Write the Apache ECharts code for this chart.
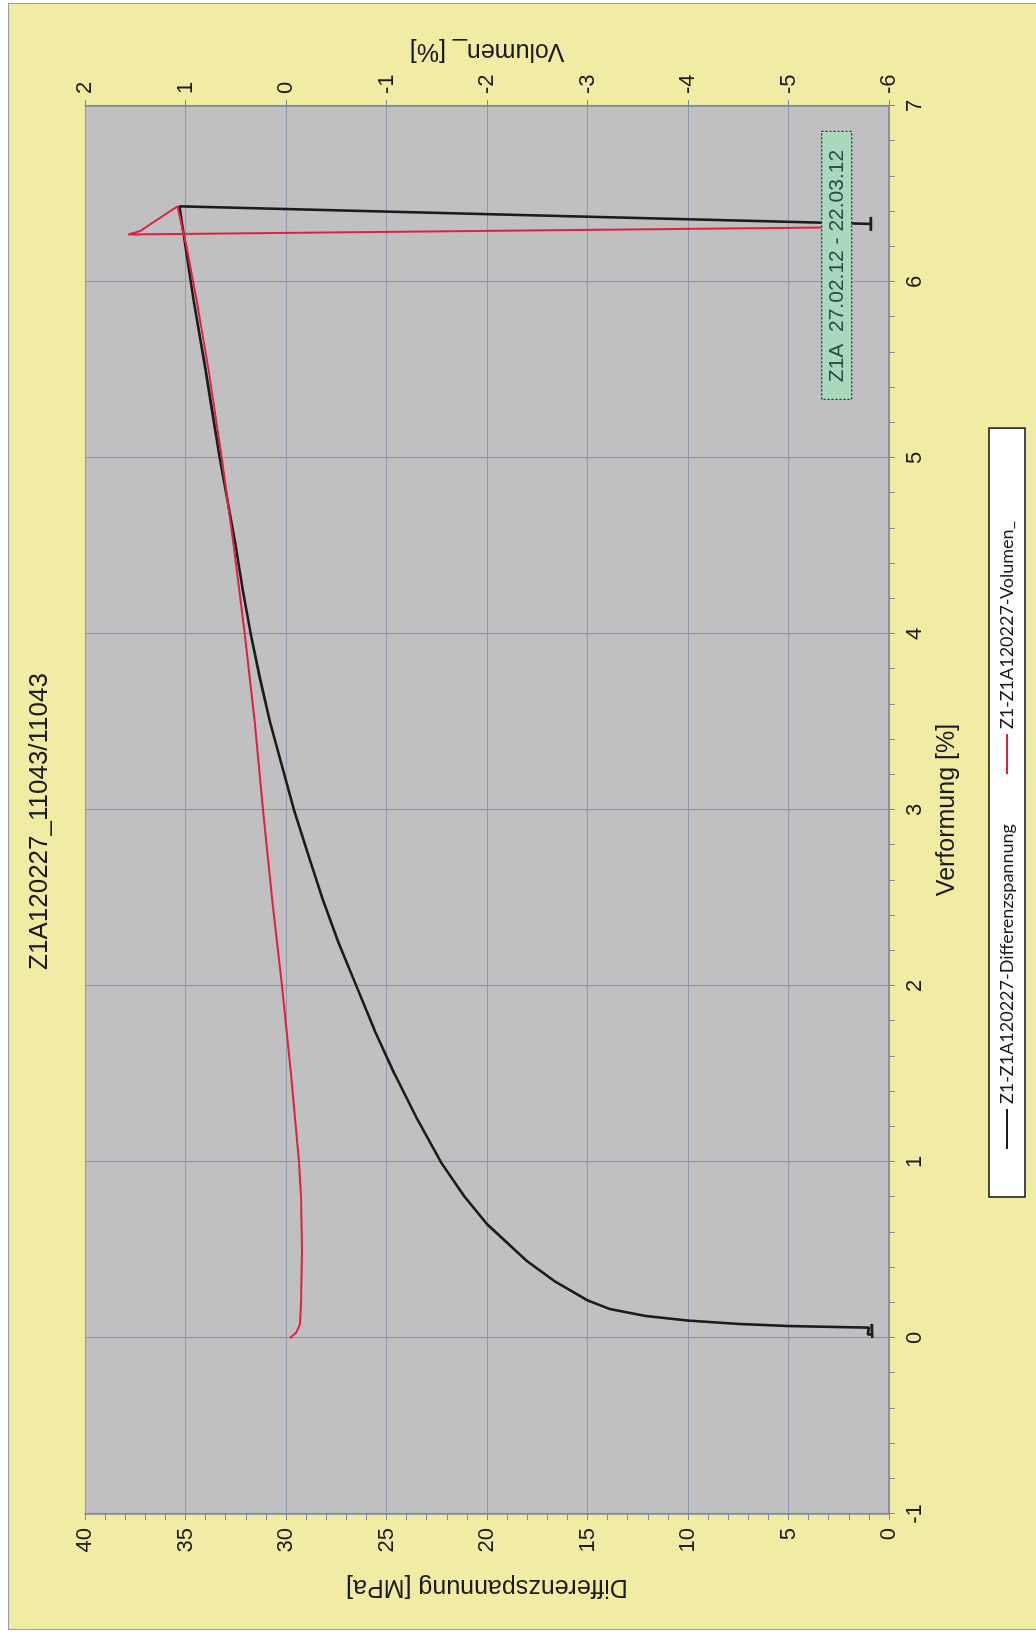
<!DOCTYPE html>
<html>
<head>
<meta charset="utf-8">
<script src="https://cdn.jsdelivr.net/npm/echarts@6/dist/echarts.min.js"></script>
<style>
  html, body { margin: 0; padding: 0; background: #fff; overflow: hidden; }
  /* the scanned page is turned a quarter to the left, so the chart is drawn upright and rotated */
  #page { position: absolute; left: 0; top: 0; width: 1643px; height: 1036px;
          transform-origin: 0 0; transform: translate(0, 1643px) rotate(-90deg); }
  #frame { position: absolute; left: 13px; top: 8px; width: 1625px; height: 1030px;
           background: #F1ECA4; border: 1px solid #9a9a9a; }
  #chart { position: absolute; left: 0; top: 0; width: 1643px; height: 1036px; }
</style>
</head>
<body>
<div id="page">
  <div id="frame"></div>
  <div id="chart"></div>
</div>
<script>
var chartTitle = 'Z1A120227_11043/11043';
var boxLabel = 'Z1A  27.02.12 - 22.03.12';
var nameBlack = 'Z1-Z1A120227-Differenzspannung';
var nameRed = 'Z1-Z1A120227-Volumen_';

// Verformung [%] / Differenzspannung [MPa]
var verfBlack = [0.00, 0.08, 0.02, 0.02, 0.059, 0.068, 0.08, 0.099, 0.125, 0.165, 0.214, 0.32, 0.436, 0.647, 0.8,
  1.0, 1.25, 1.5, 1.75, 2.0, 2.25, 2.5, 2.75, 3.0, 3.25, 3.5, 3.75, 4.0, 4.25, 4.5, 4.75, 5.0, 5.25, 5.5, 5.9, 6.2, 6.43,
  6.33, 6.37, 6.29, 6.33];
var spanBlack = [0.83, 0.85, 0.84, 1.05, 1.0, 5.0, 7.5, 10.0, 12.1, 13.9, 15.0, 16.6, 18.0, 20.0, 21.1,
  22.3, 23.5, 24.6, 25.6, 26.5, 27.4, 28.2, 28.9, 29.6, 30.2, 30.8, 31.3, 31.75, 32.15, 32.5, 32.9, 33.3, 33.65, 34.0, 34.6, 35.0, 35.3,
  0.9, 0.9, 0.9, 0.9];

// Verformung [%] / Volumen_ [%]
var verfRed = [0.0, 0.03, 0.08, 0.2, 0.5, 0.8, 1.0, 1.5, 2.0, 2.5, 3.0, 3.5, 4.0, 4.5, 5.0, 5.5, 5.9, 6.2, 6.43,
  6.29, 6.27, 6.31];
var volRed = [-0.04, -0.10, -0.14, -0.15, -0.16, -0.15, -0.13, -0.05, 0.04, 0.14, 0.23, 0.31, 0.41, 0.52, 0.64, 0.77, 0.89, 0.99, 1.08,
  1.45, 1.57, -5.4];

function pairs(xs, ys) {
  var out = [];
  for (var i = 0; i < xs.length; i++) {
    out.push([xs[i], ys[i]]);
  }
  return out;
}

var axisCol = '#7d8796';
var gridCol = '#8e99a9';
var textCol = '#1b1b1b';
var font = 'Liberation Sans, Arial, sans-serif';

var chart = echarts.init(document.getElementById('chart'), null, { width: 1643, height: 1036 });
var option = {
  backgroundColor: 'transparent',
  animation: false,
  title: {
    text: chartTitle,
    left: 'center',
    top: 22,
    textStyle: { fontFamily: font, fontSize: 26, fontWeight: 'normal', color: textCol }
  },
  grid: {
    left: 129, right: 106, top: 85, bottom: 147,
    show: true, backgroundColor: '#C0C0C3', borderWidth: 0
  },
  legend: {
    data: [nameBlack, nameRed],
    left: 446, top: 989,
    padding: [9, 93, 9, 48],
    itemGap: 50,
    itemWidth: 40,
    itemHeight: 2,
    icon: 'rect',
    backgroundColor: '#ffffff',
    borderColor: '#111',
    borderWidth: 1.5,
    borderRadius: 0,
    textStyle: { fontFamily: 'Lato, Open Sans, sans-serif', fontSize: 18, color: textCol }
  },
  xAxis: {
    type: 'value',
    min: -1, max: 7, interval: 1,
    name: 'Verformung [%]',
    nameLocation: 'middle',
    nameGap: 46,
    nameTextStyle: { fontFamily: font, fontSize: 25, color: textCol },
    axisLine: { show: true, onZero: false, lineStyle: { color: axisCol, width: 1.5 } },
    axisTick: { show: true, length: 6, lineStyle: { color: axisCol } },
    minorTick: { show: true, splitNumber: 5, length: 6, lineStyle: { color: axisCol } },
    axisLabel: { fontFamily: font, fontSize: 22, color: textCol, margin: 15 },
    splitLine: { show: true, lineStyle: { color: gridCol, width: 1.2 } }
  },
  yAxis: [{
    type: 'value',
    position: 'left',
    min: 0, max: 40, interval: 5,
    name: 'Differenzspannung [MPa]',
    nameLocation: 'middle',
    nameRotate: 90,
    nameGap: 60,
    nameTextStyle: { fontFamily: font, fontSize: 25, color: textCol },
    axisLine: { show: true, onZero: false, lineStyle: { color: axisCol, width: 1.5 } },
    axisTick: { show: true, length: 6, lineStyle: { color: axisCol } },
    minorTick: { show: true, splitNumber: 5, length: 6, lineStyle: { color: axisCol } },
    axisLabel: { fontFamily: font, fontSize: 22, color: textCol, margin: 14 },
    splitLine: { show: true, lineStyle: { color: gridCol, width: 1.2 } }
  }, {
    type: 'value',
    position: 'right',
    min: -6, max: 2, interval: 1,
    name: 'Volumen_ [%]',
    nameLocation: 'middle',
    nameRotate: 90,
    nameGap: 42,
    nameTextStyle: { fontFamily: font, fontSize: 25, color: textCol },
    axisLine: { show: true, onZero: false, lineStyle: { color: axisCol, width: 1.5 } },
    axisTick: { show: true, length: 6, lineStyle: { color: axisCol } },
    axisLabel: { fontFamily: font, fontSize: 22, color: textCol, margin: 12 },
    splitLine: { show: true, lineStyle: { color: gridCol, width: 1.2 } }
  }],
  series: [{
    name: nameBlack,
    type: 'line',
    yAxisIndex: 0,
    data: pairs(verfBlack, spanBlack),
    showSymbol: false,
    color: '#1c1c1c',
    lineStyle: { color: '#1c1c1c', width: 2.6 },
    z: 3
  }, {
    name: nameRed,
    type: 'line',
    yAxisIndex: 1,
    data: pairs(verfRed, volRed),
    showSymbol: false,
    color: '#E2203E',
    lineStyle: { color: '#E2203E', width: 2 },
    z: 4
  }],
  graphic: {
    zlevel: 1,
    elements: [{
      type: 'rect',
      left: 1243,
      top: 821,
      z: 100,
      shape: { x: 0, y: 0, width: 268, height: 30 },
      style: { fill: '#AAD8BC', stroke: '#2b2b2b', lineWidth: 1.2, lineDash: [2, 2] }
    }, {
      type: 'text',
      x: 1377, y: 837,
      z: 101,
      style: {
        text: boxLabel,
        font: '21px Liberation Sans',
        fill: '#2d4a46',
        align: 'center',
        verticalAlign: 'middle'
      }
    }]
  }
};
chart.setOption(option);
</script>
</body>
</html>
